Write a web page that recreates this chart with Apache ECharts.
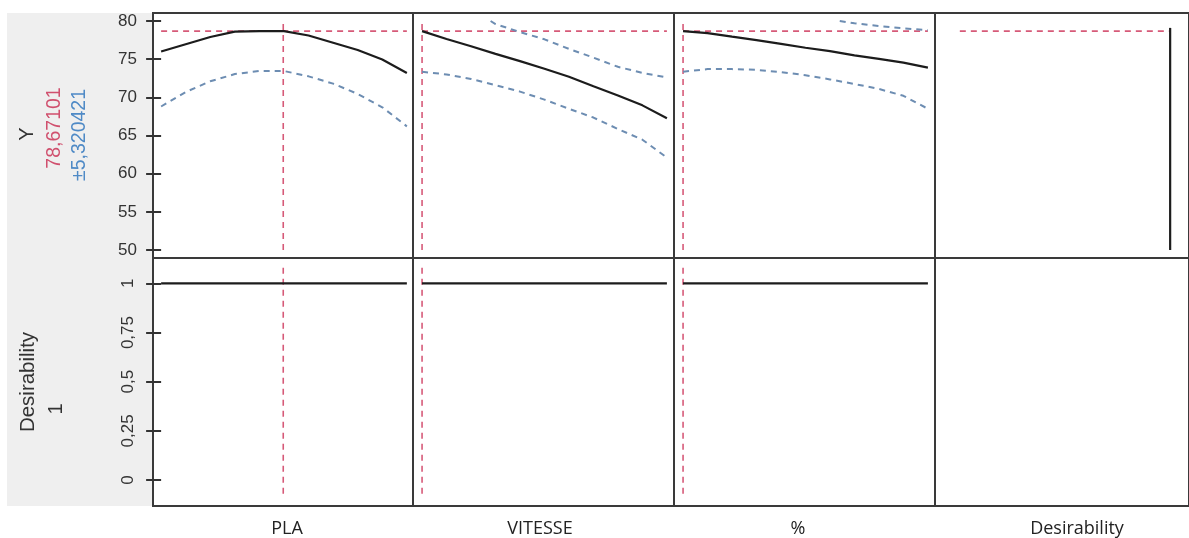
<!DOCTYPE html>
<html>
<head>
<meta charset="utf-8">
<script src="https://cdn.jsdelivr.net/npm/echarts@6/dist/echarts.min.js"></script>
<style>html,body{margin:0;padding:0;background:#fff;}#c{width:1189px;height:538px;}</style>
</head>
<body>
<div id="c"></div>
<script>
// ---- data ----
const factorNames = ['PLA', 'VITESSE', '%', 'Desirability'];
const tGrid = [0, 0.1, 0.2, 0.3, 0.4, 0.5, 0.6, 0.7, 0.8, 0.9, 1];
const plaY   = [76.0, 76.95, 77.9, 78.6, 78.67, 78.67, 78.1, 77.15, 76.2, 74.95, 73.2];
const plaLow = [68.8, 70.7, 72.1, 73.05, 73.45, 73.45, 72.75, 71.8, 70.45, 68.7, 66.2];
const vitY   = [78.67, 77.65, 76.7, 75.7, 74.75, 73.75, 72.7, 71.45, 70.25, 68.95, 67.25];
const vitLow = [73.35, 73.0, 72.4, 71.6, 70.75, 69.7, 68.5, 67.35, 65.85, 64.45, 62.1];
const vitUpX = [0.28, 0.3, 0.4, 0.5, 0.6, 0.7, 0.8, 0.9, 1.0];
const vitUp  = [80, 79.6, 78.55, 77.6, 76.35, 75.2, 74.0, 73.2, 72.6];
const pctY   = [78.67, 78.42, 77.95, 77.5, 77.0, 76.5, 76.05, 75.5, 75.05, 74.55, 73.9];
const pctLow = [73.35, 73.7, 73.7, 73.6, 73.3, 72.9, 72.35, 71.75, 71.1, 70.2, 68.5];
const pctUpX = [0.64, 0.7, 0.8, 0.9, 1.0];
const pctUp  = [80, 79.7, 79.35, 79.05, 78.8];
const predicted = 78.67101;
const halfWidth = 5.320421;
const optimum = [0.497, 0, 0];        // current factor settings (coded 0..1)
const desirability = 1;
const desirabilityCurveTop = 79.1;
const yTicksTop = [50, 55, 60, 65, 70, 75, 80];
const yTicksBottom = [0, 0.25, 0.5, 0.75, 1];
const topRange = [50, 80];
const bottomRange = [1.08, -0.09];

// ---- layout ----
const colLeft = [153, 413, 674, 935];
const colWidth = [260, 261, 261, 256];
const rowTop = [13, 258];
const rowHeight = [245, 248];
const xMin = [-0.033, -0.037, -0.037, -0.118];
const xMax = [1.025, 1.029, 1.029, 1.0896];
const yMin = [48.95, -0.132];
const yMax = [81.05, 1.129];

const RED = '#d65a78', BLUE = '#6d8db2', BLACK = '#1c1c1c', BORDER = '#3a3a3a';
const labelFont = '"Liberation Sans", Arial, sans-serif';

const grids = [], xAxes = [], yAxes = [], series = [];
for (let r = 0; r < 2; r++) {
  for (let c = 0; c < 4; c++) {
    grids.push({left: colLeft[c], top: rowTop[r], width: colWidth[c], height: rowHeight[r],
      show: true, borderColor: BORDER, borderWidth: 2, backgroundColor: '#fff'});
    xAxes.push({type: 'value', gridIndex: r * 4 + c, min: xMin[c], max: xMax[c], show: false});
    const first = c === 0;
    yAxes.push({type: 'value', gridIndex: r * 4 + c, min: yMin[r], max: yMax[r],
      show: first,
      axisLine: {show: false},
      splitLine: {show: false},
      axisTick: {show: first, length: 15, customValues: r === 0 ? yTicksTop : yTicksBottom,
        lineStyle: {color: '#333', width: 2}},
      axisLabel: {show: first, customValues: r === 0 ? yTicksTop : yTicksBottom,
        margin: 16, fontSize: 17, color: '#333', fontFamily: labelFont,
        rotate: r === 0 ? 0 : 90,
        formatter: v => String(v).replace('.', ',')}
    });
  }
}

function line(idx, xs, ys, color, dashed, width) {
  series.push({type: 'line', xAxisIndex: idx, yAxisIndex: idx,
    data: xs.map((x, i) => [x, ys[i]]), showSymbol: false, symbol: 'none', silent: true,
    lineStyle: {color: color, width: width || 2, type: dashed ? [6, 5] : 'solid'}, z: dashed ? 2 : 3});
}

const curves = [plaY, vitY, pctY];
const lows = [plaLow, vitLow, pctLow];
const upX = [null, vitUpX, pctUpX];
const ups = [null, vitUp, pctUp];
for (let c = 0; c < 3; c++) {
  // top row: prediction profile
  line(c, [0, 1], [predicted, predicted], RED, true, 1.6);
  line(c, [optimum[c], optimum[c]], topRange, RED, true, 1.6);
  line(c, tGrid, lows[c], BLUE, true, 2);
  if (ups[c]) line(c, upX[c], ups[c], BLUE, true, 2);
  line(c, tGrid, curves[c], BLACK, false, 2.2);
  // bottom row: desirability
  line(4 + c, [optimum[c], optimum[c]], bottomRange, RED, true, 1.6);
  line(4 + c, [0, 1], [desirability, desirability], BLACK, false, 2.2);
}
// desirability function panel
line(3, [0, 1], [predicted, predicted], RED, true, 1.6);
line(3, [1, 1], [50, desirabilityCurveTop], BLACK, false, 2.2);

function vtext(x, y, text, color, size) {
  return {type: 'text', x: x, y: y, rotation: Math.PI / 2,
    style: {text: text, fill: color, font: size + 'px ' + labelFont,
      align: 'center', verticalAlign: 'middle', textAlign: 'center', textVerticalAlign: 'middle'}};
}
function htext(x, y, text) {
  return {type: 'text', x: x, y: y,
    style: {text: text, fill: '#222', font: '18px "Open Sans", "Noto Sans", sans-serif',
      align: 'center', verticalAlign: 'middle', textAlign: 'center', textVerticalAlign: 'middle'}};
}
const nameX = [287, 540, 798, 1077];

const chart = echarts.init(document.getElementById('c'), null, {renderer: 'canvas'});
chart.setOption({
  animation: false,
  backgroundColor: '#fff',
  grid: grids, xAxis: xAxes, yAxis: yAxes, series: series,
  graphic: [
    {type: 'rect', z: -10, shape: {x: 7, y: 13, width: 146, height: 493}, style: {fill: '#efefef'}},
    vtext(27, 134, 'Y', '#333', 20),
    vtext(55, 128, predicted.toString().replace('.', ','), '#d0506e', 19.5),
    vtext(80, 135, '±' + halfWidth.toString().replace('.', ','), '#4f8ac6', 19.5),
    vtext(28, 382, 'Desirability', '#333', 20.5),
    vtext(56, 409, String(desirability), '#333', 20)
  ].concat(factorNames.map((n, i) => htext(nameX[i], 529, n)))
});
</script>
</body>
</html>
